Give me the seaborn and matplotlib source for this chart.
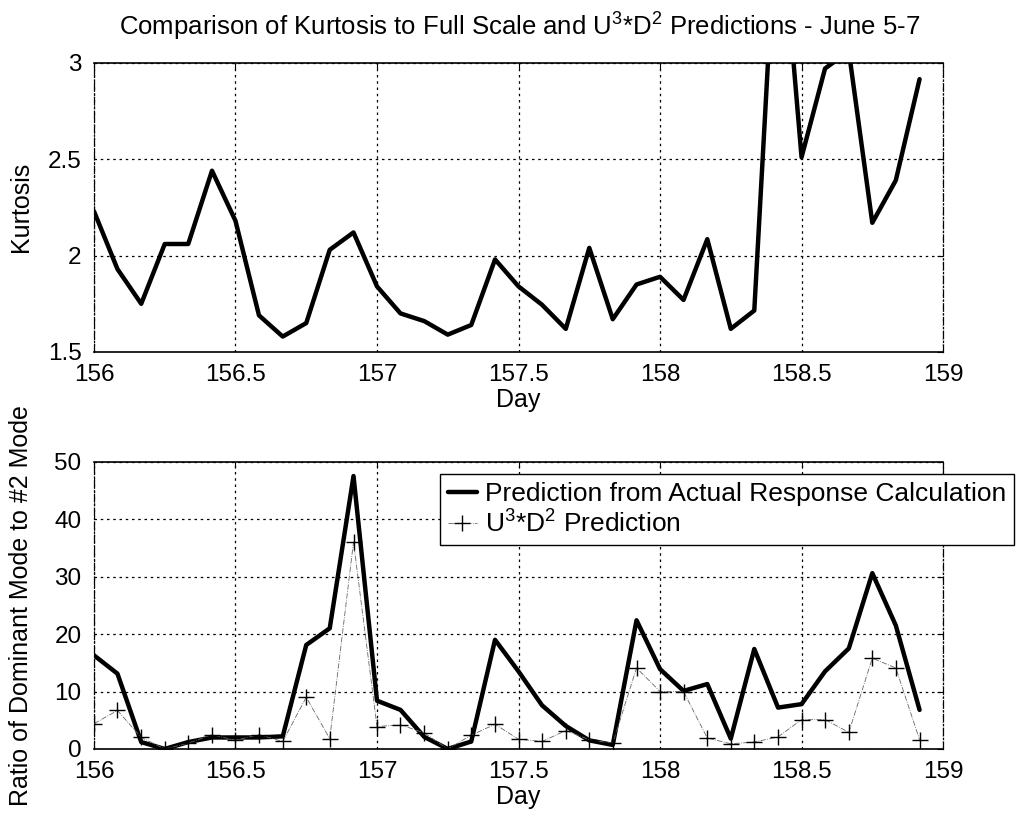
import matplotlib
matplotlib.use("Agg")
import matplotlib.pyplot as plt
from matplotlib.lines import Line2D
import seaborn as sns
import pandas as pd

# Sample times (day of year, 2-hour steps)
days = [156.000, 156.083, 156.167, 156.250, 156.333, 156.417, 156.500, 156.583,
        156.667, 156.750, 156.833, 156.917, 157.000, 157.083, 157.167, 157.250,
        157.333, 157.417, 157.500, 157.583, 157.667, 157.750, 157.833, 157.917,
        158.000, 158.083, 158.167, 158.250, 158.333, 158.417, 158.500, 158.583,
        158.667, 158.750, 158.833, 158.917]

# Measured kurtosis
kurtosis = [2.23, 1.93, 1.75, 2.06, 2.06, 2.44, 2.18, 1.69, 1.58, 1.65, 2.03, 2.12,
            1.84, 1.70, 1.66, 1.59, 1.64, 1.98, 1.84, 1.745, 1.62, 2.04, 1.67, 1.85,
            1.89, 1.77, 2.085, 1.62, 1.715, 3.95, 2.51, 2.97, 3.06, 2.17, 2.39, 2.915]

# Ratio of dominant mode to #2 mode
actual_ratio = [16.3, 13.1, 1.2, 0.0, 1.2, 2.0, 2.0, 2.0, 2.2, 18.1, 21.0, 47.5,
                8.4, 6.8, 2.1, 0.0, 1.3, 19.0, 13.5, 7.6, 4.0, 1.5, 0.7, 22.4,
                13.9, 10.1, 11.3, 1.8, 17.4, 7.2, 7.8, 13.5, 17.5, 30.6, 21.5, 6.8]
u3d2_ratio = [4.4, 6.7, 2.0, 0.0, 1.0, 2.5, 1.5, 2.5, 1.3, 9.0, 1.8, 36.0,
              3.9, 4.2, 2.8, 0.0, 2.4, 4.3, 1.7, 1.3, 3.2, 1.6, 1.0, 14.1,
              10.0, 10.0, 1.9, 0.9, 1.2, 2.1, 5.1, 5.1, 2.9, 15.8, 14.1, 1.6]

x_ticks = [156, 156.5, 157, 157.5, 158, 158.5, 159]
x_ticklabels = ["156", "156.5", "157", "157.5", "158", "158.5", "159"]
top_yticks = [1.5, 2, 2.5, 3]
top_yticklabels = ["1.5", "2", "2.5", "3"]
bot_yticks = [0, 10, 20, 30, 40, 50]

title = "Comparison of Kurtosis to Full Scale and U$^{3}$*D$^{2}$ Predictions - June 5-7"
legend_labels = ["Prediction from Actual Response Calculation", "U$^{3}$*D$^{2}$ Prediction"]

df = pd.DataFrame({"day": days, "kurtosis": kurtosis,
                   "actual": actual_ratio, "u3d2": u3d2_ratio})

sns.set_style("white")
plt.rcParams["font.family"] = ["Liberation Sans", "DejaVu Sans"]
plt.rcParams["mathtext.fontset"] = "custom"
plt.rcParams["mathtext.rm"] = "Liberation Sans"
plt.rcParams["mathtext.it"] = "Liberation Sans:italic"
plt.rcParams["mathtext.bf"] = "Liberation Sans:bold"
plt.rcParams["text.color"] = "black"
plt.rcParams["axes.labelcolor"] = "black"
plt.rcParams["xtick.color"] = "black"
plt.rcParams["ytick.color"] = "black"

TICK_FS = 17.5
LABEL_FS = 18

fig = plt.figure(figsize=(10.17, 8.18), dpi=100)
ax1 = fig.add_axes([0.0924, 0.5697, 0.8349, 0.3536])
ax2 = fig.add_axes([0.0924, 0.0844, 0.8349, 0.3512])


def style_axes(ax):
    ax.grid(True, color="black", linestyle=(0, (2, 3)), linewidth=0.9)
    ax.tick_params(direction="in", top=True, right=True, length=4, width=0.8,
                   labelsize=TICK_FS, pad=9, colors="black")
    for side in ("top", "bottom"):
        ax.spines[side].set_linewidth(1.2)
        ax.spines[side].set_color("black")
    for side in ("left", "right"):
        ax.spines[side].set_linewidth(0.9)
        ax.spines[side].set_color("black")
        ax.spines[side].set_linestyle((0, (6, 2, 1, 2)))
    ax.set_xlim(156, 159)
    ax.set_xticks(x_ticks)
    ax.set_xticklabels(x_ticklabels)


# Kurtosis panel
sns.lineplot(data=df, x="day", y="kurtosis", ax=ax1, color="black",
             linewidth=3.2, estimator=None)
style_axes(ax1)
ax1.set_ylim(1.5, 3)
ax1.set_yticks(top_yticks)
ax1.set_yticklabels(top_yticklabels)
ax1.set_xlabel("Day", fontsize=LABEL_FS, labelpad=1)
ax1.set_ylabel("Kurtosis", fontsize=LABEL_FS)
ax1.yaxis.set_label_coords(-0.072, 0.5)

# Mode-ratio panel
sns.lineplot(data=df, x="day", y="actual", ax=ax2, color="black",
             linewidth=3.2, estimator=None)
sns.lineplot(data=df, x="day", y="u3d2", ax=ax2, color="0.4",
             linewidth=0.6, linestyle="-.", marker="+", markersize=11,
             markeredgewidth=1.0, markeredgecolor="black", estimator=None)
style_axes(ax2)
ax2.set_ylim(0, 50)
ax2.set_yticks(bot_yticks)
ax2.set_xlabel("Day", fontsize=LABEL_FS, labelpad=1)
ax2.set_ylabel("Ratio of Dominant Mode to #2 Mode", fontsize=LABEL_FS)
ax2.yaxis.set_label_coords(-0.072, 0.5)

handles = [Line2D([], [], color="black", linewidth=3.2),
           Line2D([], [], color="0.4", linewidth=0.6, linestyle="-.",
                  marker="+", markersize=11, markeredgewidth=1.0,
                  markeredgecolor="black")]
leg = ax2.legend(handles, legend_labels, loc="upper left",
                 bbox_to_anchor=(0.4075, 0.957), fontsize=19, frameon=True,
                 fancybox=False, framealpha=1, edgecolor="black",
                 handlelength=1.1, handletextpad=0.3, borderpad=0.3,
                 labelspacing=0.15, borderaxespad=0)
leg.get_frame().set_linewidth(1.0)

fig.text(0.511, 0.967, title, ha="center", va="center", fontsize=18.5)

fig.savefig("out.png", dpi=100)
